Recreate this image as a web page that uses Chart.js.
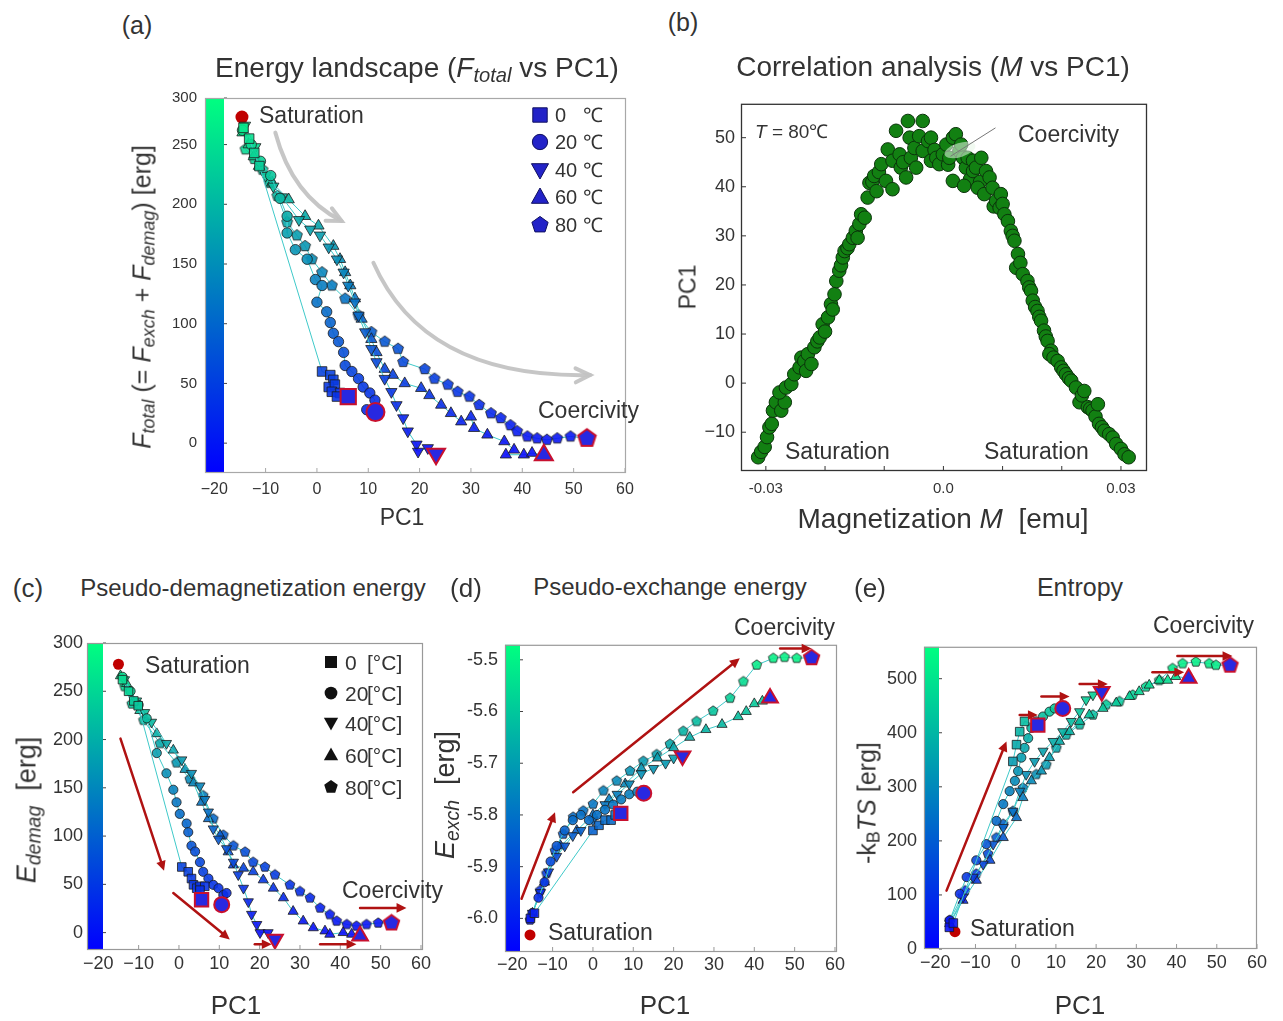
<!DOCTYPE html>
<html>
<head>
<meta charset="utf-8">
<script src="https://cdn.jsdelivr.net/npm/chart.js@4.4.0/dist/chart.umd.min.js"></script>
<style>
body { margin: 0; width: 1283px; height: 1021px; position: relative; background: #fff; overflow: hidden;
       font-family: "Liberation Sans", Arial, sans-serif; color: #333; }
canvas { position: absolute; }
.t { position: absolute; white-space: nowrap; line-height: 1; }
.c { transform: translate(-50%, -50%); }
.l { transform: translateY(-50%); }
.r { transform: translate(-50%, -50%) rotate(-90deg); }
sub { font-size: 0.72em; vertical-align: baseline; position: relative; top: 0.24em; }
.n { display: inline-block; }
</style>
</head>
<body>
<canvas id="ca"></canvas>
<canvas id="cb"></canvas>
<canvas id="cc"></canvas>
<canvas id="cd"></canvas>
<canvas id="ce"></canvas>

<div class="t c" style="left:137px;top:25px;font-size:25px">(a)</div>
<div class="t c" style="left:417px;top:68px;font-size:28px">Energy landscape (<i>F<sub>total</sub></i> vs PC1)</div>
<div class="t r" style="left:142px;top:297px;font-size:25px"><i>F<sub>total</sub></i> (= <i>F<sub>exch</sub></i> + <i>F<sub>demag</sub></i>) [erg]</div>
<div class="t c" style="left:402px;top:517px;font-size:23px">PC1</div>
<div class="t l" style="left:259px;top:115px;font-size:23px">Saturation</div>
<div class="t l" style="left:538px;top:410px;font-size:23px">Coercivity</div>
<div class="t l" style="left:555px;top:115px;font-size:20px"><span class="n" style="width:28px">0</span>℃</div>
<div class="t l" style="left:555px;top:142px;font-size:20px"><span class="n" style="width:28px">20</span>℃</div>
<div class="t l" style="left:555px;top:170px;font-size:20px"><span class="n" style="width:28px">40</span>℃</div>
<div class="t l" style="left:555px;top:197px;font-size:20px"><span class="n" style="width:28px">60</span>℃</div>
<div class="t l" style="left:555px;top:225px;font-size:20px"><span class="n" style="width:28px">80</span>℃</div>

<div class="t c" style="left:683px;top:22px;font-size:25px">(b)</div>
<div class="t c" style="left:933px;top:67px;font-size:28px">Correlation analysis (<i>M</i> vs PC1)</div>
<div class="t r" style="left:688px;top:287px;font-size:23px">PC1</div>
<div class="t c" style="left:943px;top:519px;font-size:28px">Magnetization <i>M</i> &nbsp;[emu]</div>
<div class="t l" style="left:755px;top:131px;font-size:19px"><i>T</i> = 80℃</div>
<div class="t l" style="left:1018px;top:134px;font-size:23px">Coercivity</div>
<div class="t l" style="left:785px;top:451px;font-size:23px">Saturation</div>
<div class="t l" style="left:984px;top:451px;font-size:23px">Saturation</div>

<div class="t c" style="left:28px;top:588px;font-size:26px">(c)</div>
<div class="t c" style="left:253px;top:588px;font-size:24px">Pseudo-demagnetization energy</div>
<div class="t r" style="left:27px;top:810px;font-size:27px"><i>E<sub>demag</sub></i> &nbsp;[erg]</div>
<div class="t c" style="left:236px;top:1005px;font-size:26px">PC1</div>
<div class="t l" style="left:145px;top:665px;font-size:23px">Saturation</div>
<div class="t l" style="left:342px;top:890px;font-size:23px">Coercivity</div>
<div class="t l" style="left:345px;top:662px;font-size:21px"><span class="n" style="width:22px">0</span>[°C]</div>
<div class="t l" style="left:345px;top:693px;font-size:21px"><span class="n" style="width:22px">20</span>[°C]</div>
<div class="t l" style="left:345px;top:723px;font-size:21px"><span class="n" style="width:22px">40</span>[°C]</div>
<div class="t l" style="left:345px;top:755px;font-size:21px"><span class="n" style="width:22px">60</span>[°C]</div>
<div class="t l" style="left:345px;top:787px;font-size:21px"><span class="n" style="width:22px">80</span>[°C]</div>

<div class="t c" style="left:466px;top:588px;font-size:26px">(d)</div>
<div class="t c" style="left:670px;top:587px;font-size:24px">Pseudo-exchange energy</div>
<div class="t r" style="left:445px;top:795px;font-size:27px"><i>E<sub>exch</sub></i> &nbsp;[erg]</div>
<div class="t c" style="left:665px;top:1005px;font-size:26px">PC1</div>
<div class="t l" style="left:734px;top:627px;font-size:23px">Coercivity</div>
<div class="t l" style="left:548px;top:932px;font-size:23px">Saturation</div>

<div class="t c" style="left:870px;top:588px;font-size:26px">(e)</div>
<div class="t c" style="left:1080px;top:587px;font-size:25px">Entropy</div>
<div class="t r" style="left:867px;top:803px;font-size:25px">-k<sub>B</sub><i>TS</i> [erg]</div>
<div class="t c" style="left:1080px;top:1005px;font-size:26px">PC1</div>
<div class="t l" style="left:1153px;top:625px;font-size:23px">Coercivity</div>
<div class="t l" style="left:970px;top:928px;font-size:23px">Saturation</div>

<script>
// ---------- data (PC1, value) ----------
const pcTicks = [-20, -10, 0, 10, 20, 30, 40, 50, 60];
const pcLabels = ['−20', '−10', '0', '10', '20', '30', '40', '50', '60'];

// (a) F_total vs PC1
const a0 = [[-14.3,264],[-13.2,255],[-12.2,243],[-11.2,232],[1,60],[2.6,57],[3.2,53],[2.3,47],[3.5,49],[2.9,43],[4.5,42],[3.9,39],[6.1,39]];
const a20 = [[-14.5,262],[-12.8,250],[-11,236],[-9,224],[-7.2,205],[-5.8,190],[-5.8,176],[-4.2,162],[-1.9,154],[-0.3,137],[1,132],[0,118],[1.9,110],[2.6,101],[3.2,92],[4.2,85],[5.2,76],[5.5,65],[6.8,60],[8.1,54],[9,47],[10.3,42],[11.3,36],[9.7,28],[11.4,26]];
const a40 = [[-14,266],[-12,248],[-10,224],[-8.5,215],[-6.8,206],[-3.5,187],[-1.3,179],[0.6,174],[2.3,164],[3.9,154],[5.2,143],[6.1,132],[7.4,118],[8.1,107],[9.4,93],[10.6,79],[11.6,68],[13.2,54],[14.5,43],[15.5,32],[16.8,21],[17.7,10],[19.4,-1],[19.7,-7],[21.6,-4],[23.2,-9]];
const a60 = [[-14.5,260],[-13.3,250],[-12.3,240],[-11.3,232],[-8.7,218],[-5.5,204],[-2.3,190],[0.3,182],[3.2,165],[4.5,154],[5.5,143],[6.5,132],[7.4,121],[8.7,104],[10.6,87],[11.6,76],[13.2,62],[14.8,57],[17.1,50],[20.3,46],[21.9,40],[24.2,32],[26.1,25],[28.1,18],[30,22],[30.6,12.5],[33.2,7],[36.5,1.4],[38.4,-5.6],[36.8,-9.7],[40.3,-9.7],[41.9,-8.3],[44.2,-10]];
const a80 = [[-13.9,246],[-12.2,238],[-10.6,229],[-9.2,218],[-7.7,207],[-5.8,185],[-3.9,174],[-2.3,165],[-1,154],[1,143],[2.9,132],[5.5,121],[8.1,107],[10.6,93],[13.2,85],[15.8,79],[16.8,68],[21,62],[22.9,54],[25.5,49],[27.4,43],[29.7,39],[31.6,32],[33.9,25],[35.8,21],[37.7,15],[39,10],[41,5.6],[42.9,4],[44.8,2.8],[46.8,4],[49.4,5.6],[52.6,4]];
const aSat = [[-14.6,273]];
const aTicksY = [0, 50, 100, 150, 200, 250, 289];
const aLabelsY = ['0', '50', '100', '150', '200', '250', '300'];

// (b) PC1 vs M at 80 C
const b80 = [[-0.0313,-15.1],[-0.0308,-14],[-0.0302,-13],[-0.0298,-11],[-0.0294,-9],[-0.029,-8.3],[-0.0288,-5.6],[-0.0283,-3.9],[-0.0274,-5.6],[-0.0268,-3.9],[-0.0277,-1.9],[-0.0266,-0.9],[-0.0257,-0.2],[-0.0252,1.8],[-0.0243,3.2],[-0.024,5.2],[-0.0235,4.5],[-0.0232,2.5],[-0.0229,5.9],[-0.0223,3.9],[-0.0218,7.3],[-0.0213,8.5],[-0.0209,9.3],[-0.0204,12],[-0.02,10.5],[-0.0195,13.4],[-0.019,16.1],[-0.0187,15],[-0.0184,18.1],[-0.0181,20.8],[-0.0176,22.9],[-0.0173,24],[-0.017,25.6],[-0.0167,26.9],[-0.0162,27.5],[-0.0159,28.3],[-0.0153,29.6],[-0.0148,31],[-0.0145,29.6],[-0.0142,32.4],[-0.0139,34.4],[-0.0133,33.7],[-0.0128,37.8],[-0.0125,40.8],[-0.012,41],[-0.0113,39.1],[-0.0117,42.2],[-0.0109,43],[-0.0105,44.6],[-0.0097,41.2],[-0.0086,39.5],[-0.0094,47.6],[-0.0086,45.3],[-0.008,51.4],[-0.0074,46.6],[-0.0072,43.9],[-0.0068,45],[-0.0063,41.9],[-0.006,53.4],[-0.0057,50],[-0.0055,45.9],[-0.0049,47.9],[-0.0046,43.9],[-0.0041,50.3],[-0.0035,53.4],[-0.0035,47.3],[-0.0026,49.3],[-0.0021,50],[-0.0021,45.3],[-0.0015,47.5],[-0.0012,45.9],[-0.0007,44.6],[-0.0001,46.6],[0.0005,48.6],[0.0008,44.5],[0.001,45.9],[0.0016,50],[0.0021,50.7],[0.0027,47.3],[0.003,48.6],[0.0033,45.9],[0.0016,41.2],[0.0038,43.9],[0.0041,45.9],[0.0045,41.5],[0.005,45.3],[0.005,43.2],[0.0035,40.2],[0.0055,43.9],[0.0062,41],[0.0064,45.9],[0.0058,39.8],[0.0069,38.5],[0.0072,43.2],[0.0078,41.9],[0.0083,39.8],[0.0085,36],[0.0089,37.1],[0.0097,38.5],[0.0095,35.7],[0.01,36.5],[0.0103,34.4],[0.0109,33],[0.0114,31],[0.0117,30],[0.012,29],[0.0126,26.3],[0.0123,23.5],[0.013,24.5],[0.0134,22.2],[0.0142,20.8],[0.0145,19.5],[0.0148,18.8],[0.0151,16.8],[0.0155,15.5],[0.0159,14.7],[0.0162,13.5],[0.0165,12.7],[0.017,10.7],[0.0173,9.5],[0.0176,8.6],[0.0182,6.6],[0.0179,5.9],[0.0186,5.2],[0.0193,4.5],[0.0199,3.2],[0.0203,2.5],[0.0207,1.8],[0.0212,1],[0.0216,0.5],[0.0224,-0.9],[0.023,-3.9],[0.0234,-2.5],[0.0238,-1.6],[0.0244,-4.9],[0.0248,-5.2],[0.0252,-5.6],[0.0257,-6.8],[0.0261,-4.3],[0.0263,-8.3],[0.0268,-9],[0.0272,-9.7],[0.028,-10.4],[0.0286,-11.1],[0.0292,-12.4],[0.03,-13.4],[0.0306,-14.5],[0.0313,-15.1]];
const bTicksX = [-0.03, -0.02, -0.01, 0, 0.01, 0.02, 0.03];
const bLabelsX = ['-0.03', '', '', '0.0', '', '', '0.03'];
const bTicksY = [-10, 0, 10, 20, 30, 40, 50];
const bLabelsY = ['−10', '0', '10', '20', '30', '40', '50'];

// (c) E_demag vs PC1
const c0 = [[-14,262],[-12.5,250],[-11.2,240],[-10.1,235],[0.7,68],[2.3,63],[3.1,56],[3.6,49.5],[4.4,46],[5.2,48],[6.4,48],[5.2,44],[5.6,34]];
const c20 = [[-14,265],[-12,250],[-10,236],[-8,222],[-5.5,186],[-3.1,165],[-1.4,148],[-0.6,135],[0.2,123],[1.9,113],[2.3,104],[3.1,90],[4,84],[5.2,73],[6,63],[7.3,56],[8.5,49.5],[9.8,46],[11,39],[11.8,41],[10.6,29]];
const c40 = [[-13.5,262],[-10.5,240],[-8.5,228],[-6.8,218],[-3.1,196],[0.7,179],[3.1,165],[5.2,152],[6.4,138],[7.3,125],[8.5,107.5],[9.8,97],[11.8,87],[13.5,73],[14.7,60],[16,46],[17.2,32],[18,19],[19.3,8.5],[20.1,0],[22.1,0],[23.8,-7]];
const c60 = [[-14.5,266],[-13,258],[-9.7,230],[-5.5,206],[-1.4,189],[1.5,169],[3.6,155],[5.6,135],[7.3,118],[10.2,100.7],[12.2,83.6],[13.5,70],[16,66.7],[18.4,63],[20.9,54.6],[23.4,46],[25.9,36],[28.3,22],[30.8,12],[33.3,5],[36.2,1.7],[37.4,-1.7],[40.7,0],[42.8,-1.7],[44.9,-3.4]];
const c80 = [[-13.5,255],[-11.7,237],[-8.8,220],[-4.7,196],[-0.6,176],[2.7,159],[6,142],[8.5,118],[11,101],[13.5,90],[16.4,83.6],[18.4,73],[21.3,68],[23.8,60],[27.5,49.5],[30,42.7],[32.5,36],[35,25.6],[37.4,18.8],[39.1,12],[41.6,8.5],[44,6.8],[46.5,8.5],[49.4,10],[52.7,10]];
const cSat = [[-15,278]];
const cTicksY = [0, 50, 100, 150, 200, 250, 300];
const cLabelsY = ['0', '50', '100', '150', '200', '250', '300'];

// (d) E_exch vs PC1
const d0 = [[-15.5,-6.0],[-14.5,-5.99],[0,-5.83],[1.5,-5.82],[3,-5.81],[4.5,-5.81],[5.5,-5.80],[6.9,-5.797]];
const d20 = [[-15,-5.99],[-13.5,-5.96],[-12,-5.93],[-10.5,-5.89],[-9,-5.86],[-7,-5.83],[-5,-5.81],[-3,-5.80],[-1,-5.81],[1,-5.80],[3,-5.79],[5,-5.78],[7,-5.77],[9,-5.76],[11,-5.755],[12.6,-5.758]];
const d40 = [[-15,-5.99],[-13,-5.95],[-11,-5.91],[-9,-5.88],[-7,-5.86],[-5,-5.84],[-3,-5.83],[0,-5.81],[3,-5.78],[6,-5.76],[9,-5.74],[12,-5.72],[15,-5.71],[18,-5.70],[20,-5.69],[22.2,-5.686]];
const d60 = [[-15,-5.99],[-12,-5.93],[-8,-5.86],[-4,-5.83],[0,-5.80],[4,-5.77],[8,-5.74],[12,-5.71],[16,-5.69],[20,-5.67],[24,-5.65],[28,-5.635],[32,-5.625],[36,-5.61],[38,-5.60],[40,-5.585],[42,-5.58],[43.9,-5.574]];
const d80 = [[-15.6,-6.003],[-13.1,-5.946],[-11.5,-5.913],[-9.4,-5.869],[-7.4,-5.837],[-4.9,-5.804],[-2.4,-5.792],[0,-5.779],[2.6,-5.753],[5.9,-5.734],[9.2,-5.715],[12.5,-5.696],[15.8,-5.683],[19.1,-5.663],[22.4,-5.638],[25.7,-5.619],[29.8,-5.599],[34,-5.574],[37.3,-5.542],[40.6,-5.51],[44.7,-5.497],[47.5,-5.495],[50.5,-5.497],[54.2,-5.496]];
const dSat = [[-15.6,-6.032]];
const dTicksY = [-6.0, -5.9, -5.8, -5.7, -5.6, -5.5];
const dLabelsY = ['-6.0', '-5.9', '-5.8', '-5.7', '-5.6', '-5.5'];

// (e) -kB TS vs PC1
const e0 = [[-16.5,40],[-15.5,48],[-0.7,347],[0.2,378],[1,402],[2.2,421],[5.5,414]];
const e20 = [[-16.4,53],[-13.9,102],[-12.2,133],[-9.8,164],[-7.3,194],[-4.8,237],[-3.1,268],[-1.5,292],[-0.2,311],[0.6,329],[1.4,354],[2.2,372],[3.1,390],[3.9,409],[5.1,421],[6.8,430],[8.4,439],[9.7,445],[11.7,445]];
const e40 = [[-16.4,47],[-13.1,96],[-10.6,133],[-8.1,157],[-5.6,194],[-3.1,225],[-0.7,255],[1,292],[2.6,323],[4.7,347],[6.8,366],[9.3,384],[11.7,402],[13.8,421],[15.9,439],[17.5,461],[19.2,470],[21.4,476]];
const e60 = [[-16.4,47],[-13.1,90],[-9.8,127],[-6.4,164],[-3.1,206],[0.2,243],[1.8,280],[3.9,311],[6.4,329],[8.4,354],[10.9,384],[13.4,402],[15.9,421],[18.3,433],[21.7,445],[25,455],[28.3,467],[30.7,476],[33.2,488],[35.7,497],[37.8,497],[39.8,504],[43,501]];
const e80 = [[-16.4,53],[-12.6,108],[-9.8,139],[-6.9,176],[-4.8,206],[-3.1,231],[-0.7,255],[1.8,298],[5.1,323],[7.6,341],[10.1,372],[12.6,396],[15.9,415],[19.2,433],[22.5,452],[25.8,458],[29.1,470],[32.4,485],[35.7,497],[39,519],[41.5,528],[44.8,531],[48.1,528],[49.8,525],[53.3,525]];
const eSat = [[-15.1,32]];
const eTicksY = [0, 100, 200, 300, 400, 500];
const eLabelsY = ['0', '100', '200', '300', '400', '500'];

// annotation arrows, in data units
const arrowsA = [[[-8.1,260],[-4.8,207],[4.8,186]], [[11,151],[21,54],[53.2,57]]];
const arrowsC = [[[-14.5,201],[-3.7,64]], [[-1.4,41],[12.6,-7]], [[18.8,-12],[23,-12]], [[35,-12],[44,-12]], [[44.9,25.6],[56.4,25.6]]];
const arrowsD = [[[-17.7,-5.962],[-9.4,-5.795]], [[-4.9,-5.756],[36.4,-5.497]], [[46.4,-5.478],[54.2,-5.478]]];
const arrowsE = [[[-17.2,108],[-2.3,384]], [[1,433],[5.5,433]], [[6.4,467],[13.4,467]], [[15.9,490],[22.9,490]], [[34,512],[41.9,512]], [[40.2,542],[53.9,542]]];

const shapes = ['rect', 'circle', 'down', 'up', 'pent'];

// ---------- styling ----------
const LINE = '#3fc9c9';
const END_FILL = 'rgb(40,40,225)';
const END_EDGE = '#c8102e';
const RED = '#b01212';
const FONT = '"Liberation Sans", Arial, sans-serif';
const SIZE = {rect: 1.35, circle: 1, down: 1.3, up: 1.3, pent: 1.15};
const CJS = {rect: 'rect', circle: 'circle', down: 'triangle', up: 'triangle'};

function winter(t) {
  t = Math.max(0, Math.min(1, t));
  return 'rgba(10,' + Math.round(250 * t) + ',' + Math.round(255 - 125 * t) + ',0.9)';
}

const pentCache = {};
function pentagon(fill, r, edge, lw) {
  const key = [fill, r, edge, lw].join('|');
  if (pentCache[key]) return pentCache[key];
  const s = Math.ceil(2 * r + 2 * lw + 2);
  const cv = document.createElement('canvas');
  cv.width = cv.height = s;
  const g = cv.getContext('2d');
  pentPath(g, s / 2, s / 2, r);
  g.fillStyle = fill; g.fill();
  g.lineWidth = lw; g.strokeStyle = edge; g.stroke();
  return (pentCache[key] = cv);
}
function pentPath(g, x, y, r) {
  g.beginPath();
  for (let k = 0; k < 5; k++) {
    const a = -Math.PI / 2 + k * 2 * Math.PI / 5;
    g.lineTo(x + r * Math.cos(a), y + r * Math.sin(a));
  }
  g.closePath();
}

// one temperature series; the last point is the coercivity marker
function series(pts, shape, yr, r, R) {
  const n = pts.length, fill = [], rad = [], edge = [], bw = [], style = [];
  pts.forEach((p, i) => {
    const end = i === n - 1;
    const f = end ? END_FILL : winter((p[1] - yr[0]) / (yr[1] - yr[0]));
    const rr = (end ? R : r) * SIZE[shape];
    const e = end ? END_EDGE : '#1c1c1c';
    const w = end ? 2 : 0.8;
    fill.push(f); rad.push(rr); edge.push(e); bw.push(w);
    style.push(shape === 'pent' ? pentagon(f, rr, e, w) : CJS[shape]);
  });
  return {
    data: pts.map(p => ({x: p[0], y: p[1]})),
    showLine: true, borderColor: LINE, borderWidth: 1, pointStyle: style,
    pointRadius: rad, pointBackgroundColor: fill, pointBorderColor: edge,
    pointBorderWidth: bw, pointRotation: shape === 'down' ? 180 : 0
  };
}
function satSet(pts, r) {
  return {data: pts.map(p => ({x: p[0], y: p[1]})), pointRadius: r, pointBackgroundColor: '#c00000', pointBorderWidth: 0};
}

function marker(g, shape, x, y, r, fill, edge) {
  g.beginPath();
  if (shape === 'rect') g.rect(x - r * 0.8, y - r * 0.8, r * 1.6, r * 1.6);
  else if (shape === 'circle') g.arc(x, y, r * 0.85, 0, 2 * Math.PI);
  else if (shape === 'up' || shape === 'down') {
    const s = shape === 'up' ? -1 : 1;
    g.moveTo(x, y + s * r); g.lineTo(x - r * 0.95, y - s * r * 0.7); g.lineTo(x + r * 0.95, y - s * r * 0.7); g.closePath();
  } else pentPath(g, x, y, r * 0.95);
  g.fillStyle = fill; g.fill();
  if (edge) { g.strokeStyle = edge; g.lineWidth = 1; g.stroke(); }
}

function arrow(g, pts, color, lw, hl, open) {
  g.save();
  g.strokeStyle = color; g.fillStyle = color; g.lineWidth = lw; g.lineCap = 'round';
  const a = pts[0], b = pts[pts.length - 1], prev = pts[pts.length - 2];
  const ang = Math.atan2(b[1] - prev[1], b[0] - prev[0]);
  const back = open ? 0 : hl * 0.8;
  g.beginPath(); g.moveTo(a[0], a[1]);
  if (pts.length === 3) g.quadraticCurveTo(pts[1][0], pts[1][1], b[0] - Math.cos(ang) * back, b[1] - Math.sin(ang) * back);
  else g.lineTo(b[0] - Math.cos(ang) * back, b[1] - Math.sin(ang) * back);
  g.stroke();
  g.beginPath();
  g.moveTo(b[0] - hl * Math.cos(ang - 0.45), b[1] - hl * Math.sin(ang - 0.45));
  g.lineTo(b[0], b[1]);
  g.lineTo(b[0] - hl * Math.cos(ang + 0.45), b[1] - hl * Math.sin(ang + 0.45));
  if (open) g.stroke(); else { g.closePath(); g.fill(); }
  g.restore();
}

function axis(spec, isX, size) {
  return {
    type: 'linear', min: spec.min, max: spec.max,
    grid: {display: false, drawTicks: false, tickLength: 0}, border: {display: false},
    ticks: {font: {family: FONT, size: spec.font}, color: '#333', padding: spec.pad, autoSkip: false, maxRotation: 0,
            callback: (v, i) => spec.labels[i]},
    afterBuildTicks: s => { s.ticks = spec.ticks.map(v => ({value: v})); },
    afterFit: s => { if (isX) s.height = size; else s.width = size; }
  };
}

function panel(id, box, xs, ys, datasets, deco) {
  const yw = 80, pt = 16, pr = 26, xh = 44;
  const cv = document.getElementById(id);
  const W = box.r - box.l + yw + pr, H = box.b - box.t + pt + xh;
  const off = {x: box.l - yw, y: box.t - pt};
  cv.style.left = off.x + 'px'; cv.style.top = off.y + 'px';
  cv.width = W; cv.height = H; cv.style.width = W + 'px'; cv.style.height = H + 'px';
  return new Chart(cv, {
    type: 'scatter',
    data: {datasets},
    options: {
      responsive: false, animation: false, events: [],
      layout: {padding: {top: pt, right: pr, left: 0, bottom: 0}},
      plugins: {legend: {display: false}, tooltip: {enabled: false}},
      scales: {x: axis(xs, true, xh), y: axis(ys, false, yw)}
    },
    plugins: [{
      id: 'deco',
      beforeDatasetsDraw(c) {
        const g = c.ctx, A = c.chartArea, sy = c.scales.y;
        if (deco.cb) {
          const gr = g.createLinearGradient(0, A.top, 0, A.bottom);
          gr.addColorStop(0, 'rgb(0,255,128)'); gr.addColorStop(1, 'rgb(0,0,255)');
          g.fillStyle = gr; g.fillRect(A.left, A.top, deco.cb, A.bottom - A.top);
          // small tick marks on the colourbar edge
          g.save(); g.strokeStyle = '#444'; g.lineWidth = 1;
          ys.ticks.forEach(v => { const y = sy.getPixelForValue(v); g.beginPath(); g.moveTo(A.left + deco.cb, y); g.lineTo(A.left + deco.cb + 3, y); g.stroke(); });
          g.restore();
        }
      },
      afterDatasetsDraw(c) {
        const g = c.ctx, A = c.chartArea, sx = c.scales.x, sy = c.scales.y;
        const P = p => [sx.getPixelForValue(p[0]), sy.getPixelForValue(p[1])];
        g.save();
        g.strokeStyle = deco.frame; g.lineWidth = deco.frameW;
        g.strokeRect(A.left + 0.5, A.top + 0.5, A.right - A.left - 1, A.bottom - A.top - 1);
        g.lineWidth = 1;
        xs.ticks.forEach(v => { const x = sx.getPixelForValue(v); if (x > A.left + deco.cb + 2) { g.beginPath(); g.moveTo(x, A.bottom); g.lineTo(x, A.bottom - 5); g.stroke(); } });
        if (deco.yTicks) ys.ticks.forEach(v => { const y = sy.getPixelForValue(v); g.beginPath(); g.moveTo(A.left, y); g.lineTo(A.left + 5, y); g.stroke(); });
        g.restore();
        if (deco.arrows) deco.arrows.forEach(a => arrow(g, a.map(P), deco.arrowColor, deco.arrowW, deco.head, deco.open));
        if (deco.legend) deco.legend.ys.forEach((y, i) => marker(g, shapes[i], deco.legend.x - off.x, y - off.y, deco.legend.r, deco.legend.fill, deco.legend.edge));
        if (deco.extra) deco.extra(g, P);
      }
    }]
  });
}

// ---------- panels ----------
const aY = [-25, 289];
panel('ca', {l: 205, t: 97, r: 626, b: 473},
  {min: -21.8, max: 60.2, ticks: pcTicks, labels: pcLabels, font: 16, pad: 7},
  {min: aY[0], max: aY[1], ticks: aTicksY, labels: aLabelsY, font: 15, pad: 8},
  [series(a0, 'rect', aY, 5, 8), series(a20, 'circle', aY, 5.2, 9), series(a40, 'down', aY, 5, 8),
   series(a60, 'up', aY, 5, 8), series(a80, 'pent', aY, 5, 8), satSet(aSat, 6.5)],
  {cb: 19, frame: '#a8a8a8', frameW: 1.2, arrows: arrowsA, arrowColor: 'rgba(195,195,195,0.95)', arrowW: 4, head: 16, open: true,
   legend: {x: 540, ys: [115, 142, 170, 197, 225], r: 9, fill: 'rgb(35,35,200)', edge: '#101060'}});

panel('cb', {l: 741, t: 103, r: 1147, b: 471},
  {min: -0.0342, max: 0.0344, ticks: bTicksX, labels: bLabelsX, font: 15, pad: 9},
  {min: -17.9, max: 56.9, ticks: bTicksY, labels: bLabelsY, font: 18, pad: 6},
  [{data: b80.map(p => ({x: p[0], y: p[1]})), pointRadius: 6.8, pointBackgroundColor: 'rgb(18,128,18)',
    pointBorderColor: '#0b330b', pointBorderWidth: 1}],
  {cb: 0, frame: '#333', frameW: 1.3, yTicks: true,
   extra: (g, P) => {
     const a = P([0.0088, 52]), b = P([0.0012, 46.2]), c = P([0.0028, 47.5]);
     g.save();
     g.fillStyle = 'rgba(230,245,230,0.55)';
     g.beginPath(); g.ellipse(c[0], c[1], 16, 7, -0.3, 0, 2 * Math.PI); g.fill();
     g.strokeStyle = '#777'; g.lineWidth = 1;
     g.beginPath(); g.moveTo(a[0], a[1]); g.lineTo(b[0], b[1]); g.stroke();
     g.restore();
   }});

const cY = [-18, 300];
panel('cc', {l: 87, t: 643, r: 423, b: 950},
  {min: -22.8, max: 60.5, ticks: pcTicks, labels: pcLabels, font: 18, pad: 3},
  {min: cY[0], max: cY[1], ticks: cTicksY, labels: cLabelsY, font: 18, pad: 4},
  [series(c0, 'rect', cY, 4.5, 7), series(c20, 'circle', cY, 4.6, 7.5), series(c40, 'down', cY, 4.5, 7),
   series(c60, 'up', cY, 4.5, 7), series(c80, 'pent', cY, 4.5, 7), satSet(cSat, 5.5)],
  {cb: 16, frame: '#999', frameW: 1.2, arrows: arrowsC, arrowColor: RED, arrowW: 2.5, head: 11,
   legend: {x: 331, ys: [662, 693, 723, 755, 787], r: 7.5, fill: '#111', edge: null}});

const dY = [-6.065, -5.471];
panel('cd', {l: 505, t: 643, r: 837, b: 952},
  {min: -21.8, max: 60.5, ticks: pcTicks, labels: pcLabels, font: 18, pad: 2},
  {min: dY[0], max: dY[1], ticks: dTicksY, labels: dLabelsY, font: 18, pad: 7},
  [series(d0, 'rect', dY, 4.5, 7), series(d20, 'circle', dY, 4.6, 7.5), series(d40, 'down', dY, 4.5, 7),
   series(d60, 'up', dY, 4.5, 7), series(d80, 'pent', dY, 4.5, 7), satSet(dSat, 5.5)],
  {cb: 15, frame: '#999', frameW: 1.2, arrows: arrowsD, arrowColor: RED, arrowW: 2.5, head: 11});

const eY = [0, 559];
panel('ce', {l: 924, t: 645, r: 1257, b: 949},
  {min: -22.8, max: 60, ticks: pcTicks, labels: pcLabels, font: 18, pad: 3},
  {min: eY[0], max: eY[1], ticks: eTicksY, labels: eLabelsY, font: 18, pad: 7},
  [series(e0, 'rect', eY, 4.5, 7), series(e20, 'circle', eY, 4.6, 7.5), series(e40, 'down', eY, 4.5, 7),
   series(e60, 'up', eY, 4.5, 7), series(e80, 'pent', eY, 4.5, 7), satSet(eSat, 5.5)],
  {cb: 15, frame: '#999', frameW: 1.2, arrows: arrowsE, arrowColor: RED, arrowW: 2.5, head: 11});
</script>
</body>
</html>
